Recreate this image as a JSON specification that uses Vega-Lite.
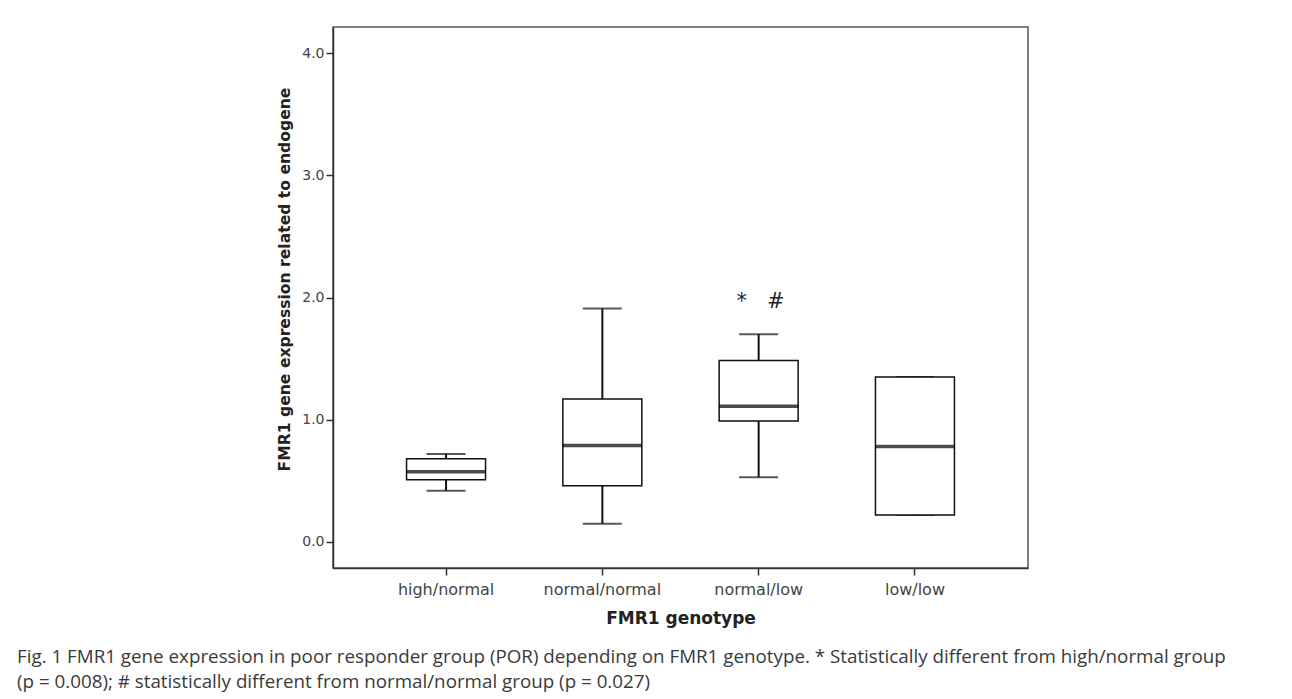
{
  "$schema": "https://vega.github.io/schema/vega-lite/v6.json",
  "autosize": {"type": "none"},
  "width": 695,
  "height": 541,
  "padding": {"left": 333, "top": 27, "right": 264, "bottom": 131},
  "background": "white",
  "data": {"values": [
    {"genotype": "high/normal", "lo": 0.42, "q1": 0.51, "med": 0.575, "q3": 0.68, "hi": 0.72, "note": ""},
    {"genotype": "normal/normal", "lo": 0.15, "q1": 0.46, "med": 0.79, "q3": 1.17, "hi": 1.91, "note": ""},
    {"genotype": "normal/low", "lo": 0.53, "q1": 0.99, "med": 1.11, "q3": 1.485, "hi": 1.70, "note": "*\u00a0\u00a0\u00a0#", "noteY": 1.96},
    {"genotype": "low/low", "lo": 0.22, "q1": 0.22, "med": 0.78, "q3": 1.35, "hi": 1.35, "note": ""}
  ]},
  "title": {
    "text": ["Fig. 1 FMR1 gene expression in poor responder group (POR) depending on FMR1 genotype. * Statistically different from high/normal group", "(p = 0.008); # statistically different from normal/normal group (p = 0.027)"],
    "orient": "bottom",
    "anchor": "start",
    "frame": "group",
    "dx": -316,
    "offset": 22,
    "font": "Open Sans",
    "fontSize": 18.8,
    "fontWeight": "normal",
    "color": "#3a3a3a",
    "lineHeight": 25
  },
  "encoding": {
    "x": {
      "field": "genotype", "type": "nominal",
      "sort": ["high/normal", "normal/normal", "normal/low", "low/low"],
      "scale": {"paddingInner": 0.4946, "paddingOuter": 0.4706},
      "axis": {
        "title": "FMR1 genotype", "labelAngle": 0,
        "labelFont": "DejaVu Sans", "labelFontSize": 16, "labelColor": "#444",
        "titleFont": "DejaVu Sans", "titleFontSize": 17, "titleFontWeight": "bold", "titleColor": "#222",
        "tickSize": 7, "tickColor": "#333", "tickWidth": 1.5,
        "domainColor": "#333", "domainWidth": 1.5,
        "labelPadding": 6, "titlePadding": 13
      }
    }
  },
  "layer": [
    {
      "mark": {"type": "rule", "color": "#111", "strokeWidth": 2},
      "encoding": {
        "y": {
          "field": "lo", "type": "quantitative",
          "scale": {"domain": [-0.213, 4.213], "nice": false, "zero": false},
          "axis": {
            "title": "FMR1 gene expression related to endogene",
            "values": [0, 1, 2, 3, 4], "format": ".1f", "grid": false,
            "labelFont": "DejaVu Sans", "labelFontSize": 14, "labelColor": "#444",
            "titleFont": "DejaVu Sans", "titleFontSize": 15.6, "titleFontWeight": "bold", "titleColor": "#222",
            "titleX": -49, "titleY": 252, "titleBaseline": "middle", "titleAlign": "center", "titleAngle": 270,
            "tickSize": 7, "tickColor": "#333", "tickWidth": 1.5,
            "domainColor": "#333", "domainWidth": 1.5,
            "labelPadding": 2
          }
        },
        "y2": {"field": "hi"}
      }
    },
    {
      "mark": {"type": "tick", "color": "#111", "size": 39, "thickness": 2},
      "encoding": {"y": {"field": "lo", "type": "quantitative"}}
    },
    {
      "mark": {"type": "tick", "color": "#111", "size": 39, "thickness": 2},
      "encoding": {"y": {"field": "hi", "type": "quantitative"}}
    },
    {
      "mark": {"type": "bar", "fill": "white", "stroke": "#111", "strokeWidth": 1.5},
      "encoding": {
        "y": {"field": "q1", "type": "quantitative"},
        "y2": {"field": "q3"}
      }
    },
    {
      "mark": {"type": "tick", "color": "#000", "size": 79, "thickness": 3.5},
      "encoding": {"y": {"field": "med", "type": "quantitative"}}
    },
    {
      "mark": {"type": "text", "font": "DejaVu Sans", "fontSize": 21, "color": "#222", "baseline": "middle", "dx": 2},
      "encoding": {
        "y": {"field": "noteY", "type": "quantitative"},
        "text": {"field": "note"}
      }
    }
  ],
  "config": {
    "view": {"stroke": "#555", "strokeWidth": 1.5}
  }
}
